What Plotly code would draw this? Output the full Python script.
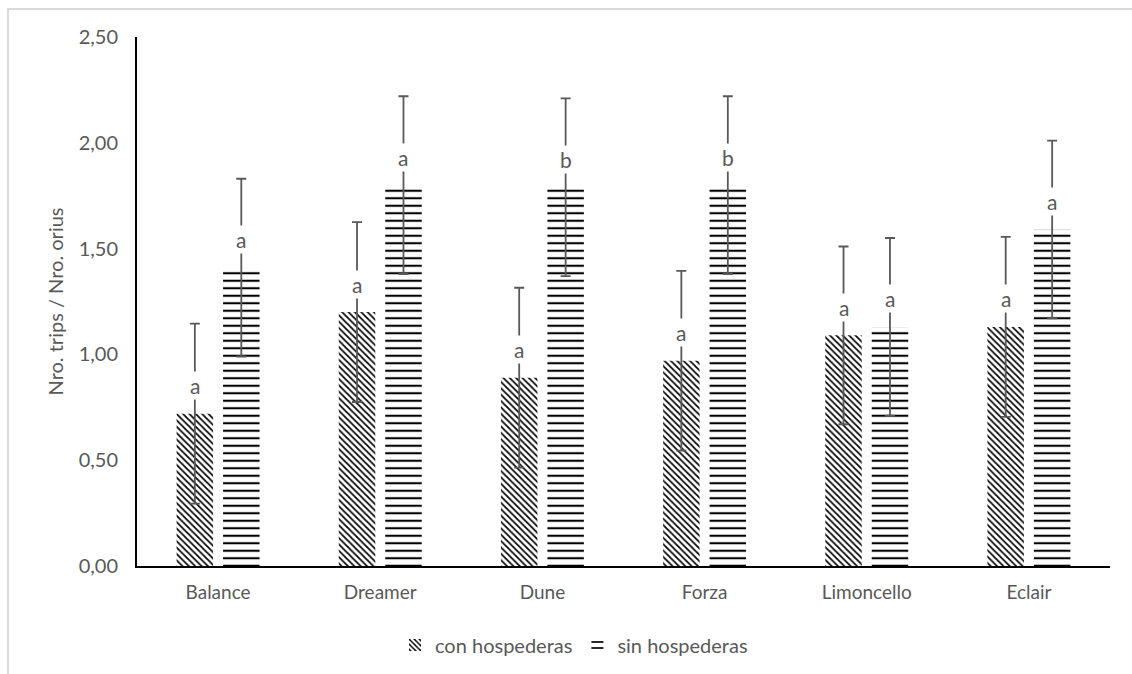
import plotly.graph_objects as go

# Cultivars and group means (ratio thrips / orius)
cultivars = ["Balance", "Dreamer", "Dune", "Forza", "Limoncello", "Eclair"]
con_hosp = [0.72, 1.20, 0.89, 0.97, 1.09, 1.13]
sin_hosp = [1.41, 1.80, 1.79, 1.80, 1.13, 1.59]
con_err = [0.425, 0.425, 0.425, 0.425, 0.42, 0.425]
sin_err = [0.42, 0.42, 0.42, 0.42, 0.42, 0.42]
con_letters = ["a", "a", "a", "a", "a", "a"]
sin_letters = ["a", "a", "b", "b", "a", "a"]

ytick_vals = [0, 0.5, 1.0, 1.5, 2.0, 2.5]

FONT = "Lato, Open Sans, sans-serif"
GREY = "#595959"

fig = go.Figure()

fig.add_trace(go.Bar(
    name="con hospederas", x=cultivars, y=con_hosp,
    marker=dict(color="white", line=dict(width=0),
                pattern=dict(shape="\\", size=4.5, solidity=0.38,
                             fgcolor="black", bgcolor="white", fgopacity=1)),
    error_y=dict(type="data", array=con_err, visible=True,
                 color=GREY, thickness=1.8, width=5),
))
fig.add_trace(go.Bar(
    name="sin hospederas", x=cultivars, y=sin_hosp,
    marker=dict(color="white", line=dict(width=0),
                pattern=dict(shape="-", size=7.5, solidity=0.28,
                             fgcolor="black", bgcolor="white", fgopacity=1)),
    error_y=dict(type="data", array=sin_err, visible=True,
                 color=GREY, thickness=1.8, width=5),
))

# Significance letters just above each bar, masking the error line behind them
annotations = []
for i, c in enumerate(cultivars):
    for val, letter, shift in ((con_hosp[i], con_letters[i], -0.143),
                               (sin_hosp[i], sin_letters[i], 0.143)):
        annotations.append(dict(
            x=i + shift, y=val, xref="x", yref="y", text=letter,
            showarrow=False, yshift=28, bgcolor="white", borderpad=1,
            font=dict(family=FONT, size=21, color=GREY),
        ))

fig.update_layout(
    width=1132, height=674,
    margin=dict(l=137, r=22, t=37, b=108, autoexpand=False),
    paper_bgcolor="white", plot_bgcolor="white",
    separators=",.",
    barmode="group", bargap=0.427, bargroupgap=0.215,
    font=dict(family=FONT, size=20, color=GREY),
    showlegend=True,
    legend=dict(orientation="h", xref="container", x=574 / 1132, xanchor="center",
                yref="container", y=(674 - 645) / 674, yanchor="middle",
                font=dict(family=FONT, size=20, color=GREY),
                itemwidth=30, traceorder="normal"),
    xaxis=dict(showline=True, linecolor="black", linewidth=2, automargin=False,
               ticks="", showgrid=False, ticklabelstandoff=8,
               tickfont=dict(size=19, color=GREY)),
    yaxis=dict(range=[0, 2.5], tickvals=ytick_vals, tickformat=".2f",
               showline=True, linecolor="black", linewidth=2, automargin=False,
               ticks="", showgrid=False, zeroline=False,
               ticklabelstandoff=13,
               tickfont=dict(size=20, color=GREY),
               title=dict(text="Nro. trips / Nro. orius", standoff=10,
                          font=dict(size=20, color=GREY))),
    annotations=annotations,
    shapes=[dict(type="rect", xref="paper", yref="paper",
                 x0=(8 - 137) / 973, x1=(1145 - 137) / 973,
                 y0=-(690 - 566) / 529, y1=1 + (37 - 9) / 529,
                 line=dict(color="#d9d9d9", width=2), layer="below")],
)

fig.write_html("out.html")
